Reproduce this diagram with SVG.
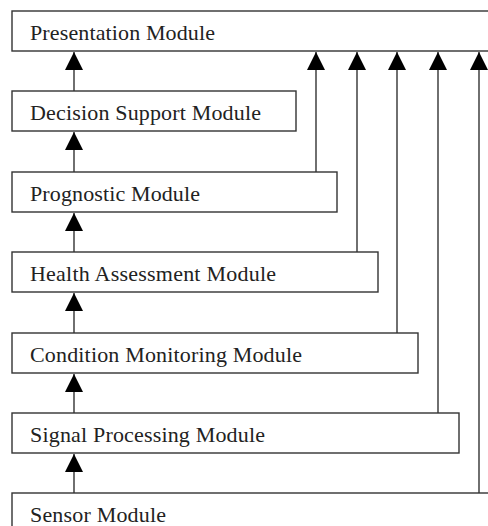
<svg xmlns="http://www.w3.org/2000/svg" width="488" height="526" viewBox="0 0 488 526">
<style>
.box{fill:#fff;stroke:#333;stroke-width:1.4}
.lbl{font-family:"Liberation Serif","Times New Roman",serif;font-size:22px;fill:#222}
.conn{stroke:#333;stroke-width:1.4;fill:none}
</style>
<defs>
<marker id="ah" markerUnits="userSpaceOnUse" markerWidth="18" markerHeight="18" refX="17" refY="8.5" orient="auto" viewBox="0 0 17 17">
<path d="M0,0 L17,8.5 L0,17 Z" fill="#000"/>
</marker>
</defs>
<rect width="488" height="526" fill="#fff"/>
<g id="presentation"><rect class="box" x="12" y="11" width="490" height="40"/><text class="lbl" x="30" y="40" textLength="185">Presentation Module</text></g>
<g id="decision"><rect class="box" x="12" y="91" width="284" height="40"/><text class="lbl" x="30" y="120" textLength="231">Decision Support Module</text></g>
<g id="prognostic"><rect class="box" x="12" y="172" width="325" height="40"/><text class="lbl" x="30" y="201" textLength="170">Prognostic Module</text></g>
<g id="health"><rect class="box" x="12" y="252" width="366" height="40"/><text class="lbl" x="30" y="281" textLength="246">Health Assessment Module</text></g>
<g id="condition"><rect class="box" x="12" y="333" width="406" height="40"/><text class="lbl" x="30" y="362" textLength="272">Condition Monitoring Module</text></g>
<g id="signal"><rect class="box" x="12" y="413" width="447" height="40"/><text class="lbl" x="30" y="442" textLength="235">Signal Processing Module</text></g>
<g id="sensor"><rect class="box" x="12" y="493" width="490" height="40"/><text class="lbl" x="30" y="522" textLength="136">Sensor Module</text></g>
<g id="connectors">
<line class="conn" x1="74" y1="91" x2="74" y2="52" marker-end="url(#ah)"/>
<line class="conn" x1="74" y1="172" x2="74" y2="132" marker-end="url(#ah)"/>
<line class="conn" x1="74" y1="252" x2="74" y2="213" marker-end="url(#ah)"/>
<line class="conn" x1="74" y1="333" x2="74" y2="293" marker-end="url(#ah)"/>
<line class="conn" x1="74" y1="413" x2="74" y2="374" marker-end="url(#ah)"/>
<line class="conn" x1="74" y1="493" x2="74" y2="454" marker-end="url(#ah)"/>
<line class="conn" x1="316" y1="172" x2="316" y2="52" marker-end="url(#ah)"/>
<line class="conn" x1="357" y1="252" x2="357" y2="52" marker-end="url(#ah)"/>
<line class="conn" x1="397" y1="333" x2="397" y2="52" marker-end="url(#ah)"/>
<line class="conn" x1="438" y1="413" x2="438" y2="52" marker-end="url(#ah)"/>
<line class="conn" x1="479" y1="493" x2="479" y2="52" marker-end="url(#ah)"/>
</g>
</svg>
